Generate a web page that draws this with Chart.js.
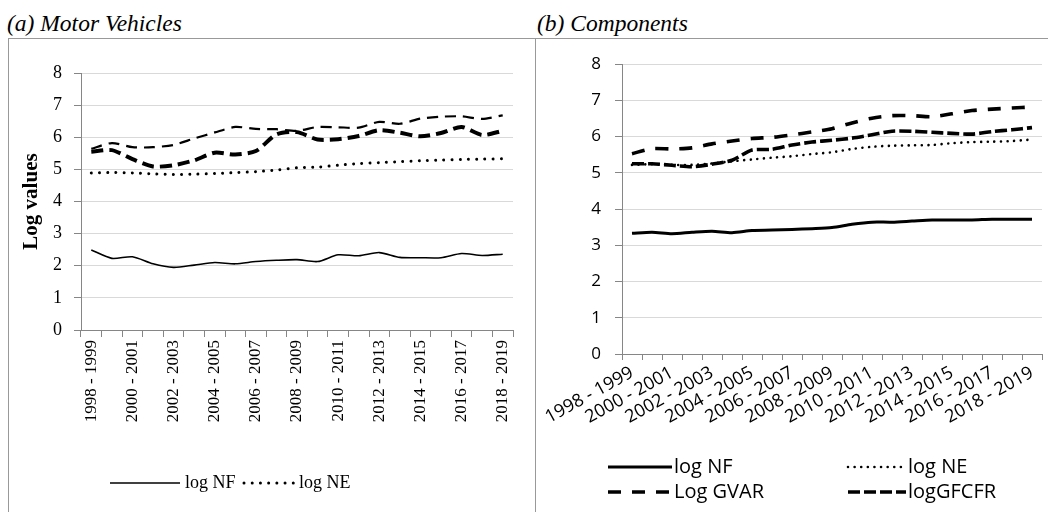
<!DOCTYPE html>
<html>
<head>
<meta charset="utf-8" />
<script src="https://cdn.jsdelivr.net/npm/chart.js@4/dist/chart.umd.min.js"></script>
<style>
body { margin: 0; background: #fff; }
#page { position: relative; width: 1048px; height: 512px; overflow: hidden; }
.ttl { position: absolute; top: 12px; font: italic 23.5px/23px 'Liberation Serif', serif; color: #000; white-space: nowrap; }
.frm { position: absolute; border-color: #999; border-style: solid; border-width: 0; }
.box { position: absolute; }
</style>
</head>
<body>
<div id="page">
	<div class="ttl" style="left:7px">(a) Motor Vehicles</div>
	<div class="ttl" style="left:537px">(b) Components</div>
	<div class="frm" style="left:8px; top:38px; width:1040px; height:480px; border-top-width:1px; border-left-width:1px;"></div>
	<div class="frm" style="left:535px; top:38px; width:0; height:480px; border-left-width:1px;"></div>
	<div class="box" style="left:10px; top:40px; width:520px; height:472px;"><canvas id="chartA"></canvas></div>
	<div class="box" style="left:536px; top:40px; width:510px; height:472px;"><canvas id="chartB"></canvas></div>
</div>

<script>
const periods = ['1998 - 1999', '1999 - 2000', '2000 - 2001', '2001 - 2002', '2002 - 2003', '2003 - 2004',
	'2004 - 2005', '2005 - 2006', '2006 - 2007', '2007 - 2008', '2008 - 2009', '2009 - 2010',
	'2010 - 2011', '2011 - 2012', '2012 - 2013', '2013 - 2014', '2014 - 2015', '2015 - 2016',
	'2016 - 2017', '2017 - 2018', '2018 - 2019'];

// (a) Motor Vehicles
const mvNF    = [2.49, 2.23, 2.28, 2.06, 1.95, 2.02, 2.10, 2.06, 2.13, 2.17, 2.19, 2.13, 2.34, 2.31, 2.41, 2.26, 2.25, 2.25, 2.38, 2.32, 2.36];
const mvNE    = [4.89, 4.90, 4.89, 4.86, 4.84, 4.85, 4.87, 4.90, 4.93, 4.98, 5.05, 5.07, 5.13, 5.18, 5.21, 5.24, 5.27, 5.29, 5.31, 5.32, 5.33];
const mvGVAR  = [5.64, 5.82, 5.69, 5.69, 5.76, 5.96, 6.15, 6.32, 6.26, 6.25, 6.20, 6.32, 6.31, 6.30, 6.48, 6.42, 6.58, 6.64, 6.65, 6.57, 6.68];
const mvGFCFR = [5.55, 5.60, 5.32, 5.09, 5.13, 5.28, 5.52, 5.46, 5.57, 6.09, 6.16, 5.93, 5.94, 6.04, 6.22, 6.14, 6.03, 6.13, 6.32, 6.07, 6.20];

// (b) Components
const cpNF    = [3.33, 3.36, 3.32, 3.36, 3.39, 3.35, 3.41, 3.42, 3.44, 3.46, 3.49, 3.58, 3.64, 3.64, 3.67, 3.70, 3.70, 3.70, 3.72, 3.72, 3.72];
const cpNE    = [5.22, 5.24, 5.22, 5.22, 5.26, 5.32, 5.37, 5.42, 5.46, 5.52, 5.57, 5.66, 5.72, 5.75, 5.76, 5.77, 5.82, 5.85, 5.86, 5.88, 5.92];
const cpGVAR  = [5.53, 5.67, 5.66, 5.69, 5.80, 5.88, 5.95, 5.98, 6.05, 6.13, 6.22, 6.38, 6.51, 6.58, 6.58, 6.55, 6.63, 6.72, 6.76, 6.79, 6.82];
const cpGFCFR = [5.25, 5.25, 5.21, 5.17, 5.24, 5.35, 5.63, 5.65, 5.77, 5.85, 5.90, 5.96, 6.05, 6.15, 6.15, 6.12, 6.09, 6.07, 6.14, 6.19, 6.25];

const yMin = 0, yMax = 8, yStep = 1;

// legend drawn the excel way (fixed slots)
const excelLegend = {
	id: 'excelLegend',
	afterDraw: (chart, args, opts) => {
		const {ctx} = chart;
		ctx.save();
		ctx.font = opts.font;
		ctx.fillStyle = '#000';
		ctx.textBaseline = 'middle';
		opts.items.forEach(it => {
			const ds = chart.data.datasets[it.index];
			ctx.beginPath();
			ctx.lineWidth = ds.borderWidth;
			ctx.strokeStyle = ds.borderColor;
			ctx.lineCap = ds.borderCapStyle || 'butt';
			ctx.setLineDash(ds.borderDash || []);
			ctx.moveTo(it.x, it.y);
			ctx.lineTo(it.x + it.w, it.y);
			ctx.stroke();
			ctx.setLineDash([]);
			ctx.fillText(ds.label, it.x + it.w + it.gap, it.y);
		});
		ctx.restore();
	}
};

function line(label, data, width, dash, cap) {
	return {
		label: label, data: data,
		borderColor: '#000', backgroundColor: '#000',
		borderWidth: width, borderDash: dash, borderCapStyle: cap || 'butt',
		pointRadius: 0, tension: 0.25, fill: false
	};
}

new Chart(document.getElementById('chartA'), {
	type: 'line',
	data: {
		labels: periods,
		datasets: [
			line('log NF', mvNF, 1.6, []),
			line('log NE', mvNE, 3, [0.01, 8.2], 'round'),
			line('Log GVAR', mvGVAR, 2.2, [11, 7]),
			line('logGFCFR', mvGFCFR, 4, [12, 6])
		]
	},
	options: {
		responsive: true,
		maintainAspectRatio: false,
		animation: false,
		layout: { padding: { left: 0, top: 33, right: 17, bottom: 0 } },
		plugins: {
			legend: { display: false },
			tooltip: { enabled: false },
			excelLegend: {
				font: "18px 'Liberation Serif'",
				items: [
					{ index: 0, x: 100, w: 70, gap: 5, y: 443 },
					{ index: 1, x: 234, w: 50, gap: 5, y: 443 }
				]
			}
		},
		scales: {
			x: {
				offset: true,
				afterFit: (s) => { s.height = 182; },
				grid: { display: true, drawOnChartArea: false, offset: true, tickLength: 7, color: '#868686' },
				border: { color: '#868686' },
				ticks: {
					autoSkip: false, minRotation: 90, maxRotation: 90, padding: 3, color: '#000',
					font: { family: 'Liberation Serif', size: 17 },
					callback: function(v, i) { return i % 2 === 0 ? this.getLabelForValue(v) : ''; }
				}
			},
			y: {
				min: yMin, max: yMax,
				afterFit: (s) => { s.width = 71; },
				grid: { color: '#d9d9d9', tickColor: '#868686', tickLength: 7 },
				border: { color: '#868686' },
				ticks: { stepSize: yStep, padding: 12, color: '#000', font: { family: 'Liberation Serif', size: 18 } },
				title: { display: true, text: 'Log values', color: '#000', padding: { top: 9, bottom: 0 },
					font: { family: 'Liberation Serif', size: 21, weight: 'bold' } }
			}
		}
	},
	plugins: [excelLegend]
});

new Chart(document.getElementById('chartB'), {
	type: 'line',
	data: {
		labels: periods,
		datasets: [
			line('log NF', cpNF, 3, []),
			line('log NE', cpNE, 2.6, [0.01, 6.6], 'round'),
			line('Log GVAR', cpGVAR, 3.6, [13, 11]),
			line('logGFCFR', cpGFCFR, 3.6, [12, 4])
		]
	},
	options: {
		responsive: true,
		maintainAspectRatio: false,
		animation: false,
		layout: { padding: { left: 0, top: 24, right: 4, bottom: 0 } },
		plugins: {
			legend: { display: false },
			tooltip: { enabled: false },
			excelLegend: {
				font: "20px 'Open Sans'",
				items: [
					{ index: 0, x: 72, w: 64, gap: 2, y: 427 },
					{ index: 1, x: 312, w: 58, gap: 2, y: 427 },
					{ index: 2, x: 72, w: 64, gap: 2, y: 452 },
					{ index: 3, x: 312, w: 58, gap: 2, y: 452 }
				]
			}
		},
		scales: {
			x: {
				offset: true,
				afterFit: (s) => { s.height = 158; },
				grid: { display: true, drawOnChartArea: false, offset: true, tickLength: 6, color: '#868686' },
				border: { color: '#868686' },
				ticks: {
					autoSkip: false, minRotation: 29, maxRotation: 29, padding: 2, color: '#000',
					font: { family: 'Open Sans', size: 18 },
					callback: function(v, i) { return i % 2 === 0 ? this.getLabelForValue(v) : ''; }
				}
			},
			y: {
				min: yMin, max: yMax,
				afterFit: (s) => { s.width = 86; },
				grid: { color: '#d9d9d9', tickColor: '#868686', tickLength: 7 },
				border: { color: '#868686' },
				ticks: { stepSize: yStep, padding: 14, color: '#000', font: { family: 'Open Sans', size: 17 } }
			}
		}
	},
	plugins: [excelLegend]
});
</script>
</body>
</html>
